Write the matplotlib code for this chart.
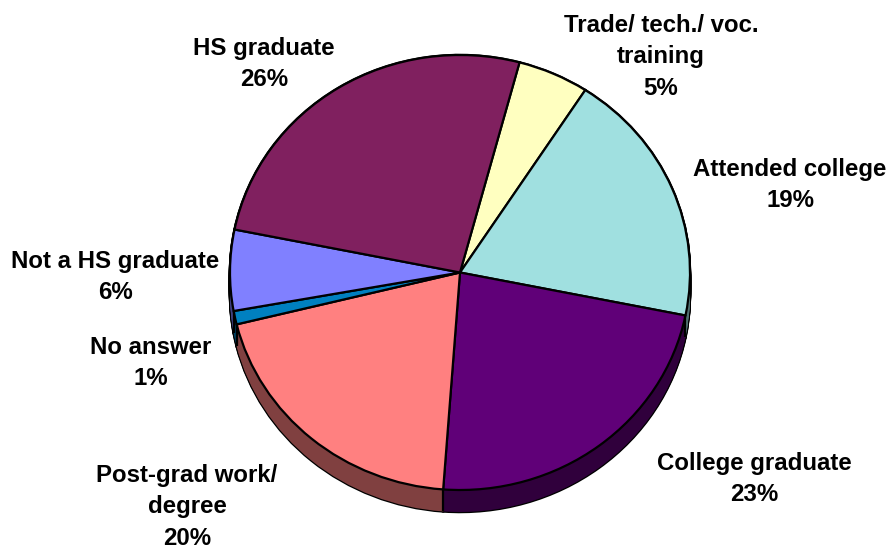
import numpy as np
import matplotlib
matplotlib.use("Agg")
import matplotlib.pyplot as plt

categories = ["Trade/ tech./ voc.\ntraining", "Attended college", "College graduate",
              "Post-grad work/\ndegree", "No answer", "Not a HS graduate", "HS graduate"]
values = [5, 19, 23, 20, 1, 6, 26]
top_colors = ["#FFFFC0", "#A0E0E0", "#600078", "#FF8080", "#0080C0", "#8080FF", "#80205F"]
side_colors = ["#808060", "#507070", "#30003C", "#804040", "#004060", "#404080", "#401030"]
label_centers = [(661, 57), (790, 185), (754, 479), (187, 507), (151, 363), (115, 277), (264, 64)]

W, H = 888, 549
cx, cy, rx, ry = 460, 272.5, 230, 217.5
depth = 22 / ry
start = 75

plt.rcParams["font.family"] = ["Liberation Sans", "DejaVu Sans"]
fig = plt.figure(figsize=(W / 100, H / 100), dpi=100, facecolor="white")
ax = fig.add_axes([0, 0, 1, 1])

offsets = np.linspace(depth, 0, 23)
for off in offsets:
    ax.pie(values, colors=side_colors, startangle=start, counterclock=False, center=(0, -off),
           wedgeprops=dict(edgecolor="black", linewidth=1.8))
for off in offsets:
    ax.pie(values, colors=side_colors, startangle=start, counterclock=False, center=(0, -off),
           wedgeprops=dict(edgecolor="none", linewidth=0))

# edges between slices on the visible side wall
bounds = start - np.cumsum(values) / np.sum(values) * 360
for b in bounds:
    x, y = np.cos(np.radians(b)), np.sin(np.radians(b))
    if y < 0:
        ax.plot([x, x], [y, y - depth], color="black", lw=1.6, solid_capstyle="butt")

ax.pie(values, colors=top_colors, startangle=start, counterclock=False, center=(0, 0),
       wedgeprops=dict(edgecolor="black", linewidth=1.6, joinstyle="round"))

ax.set_aspect("auto")
ax.set_xlim(-cx / rx, (W - cx) / rx)
ax.set_ylim(-(H - cy) / ry, cy / ry)
ax.axis("off")

total = sum(values)
for name, v, (px, py) in zip(categories, values, label_centers):
    fig.text(px / W, 1 - py / H, f"{name}\n{round(100 * v / total)}%", ha="center", va="center",
             fontsize=17.3, fontweight="bold", color="black", linespacing=1.48)

fig.savefig("out.png", dpi=100, facecolor="white")
